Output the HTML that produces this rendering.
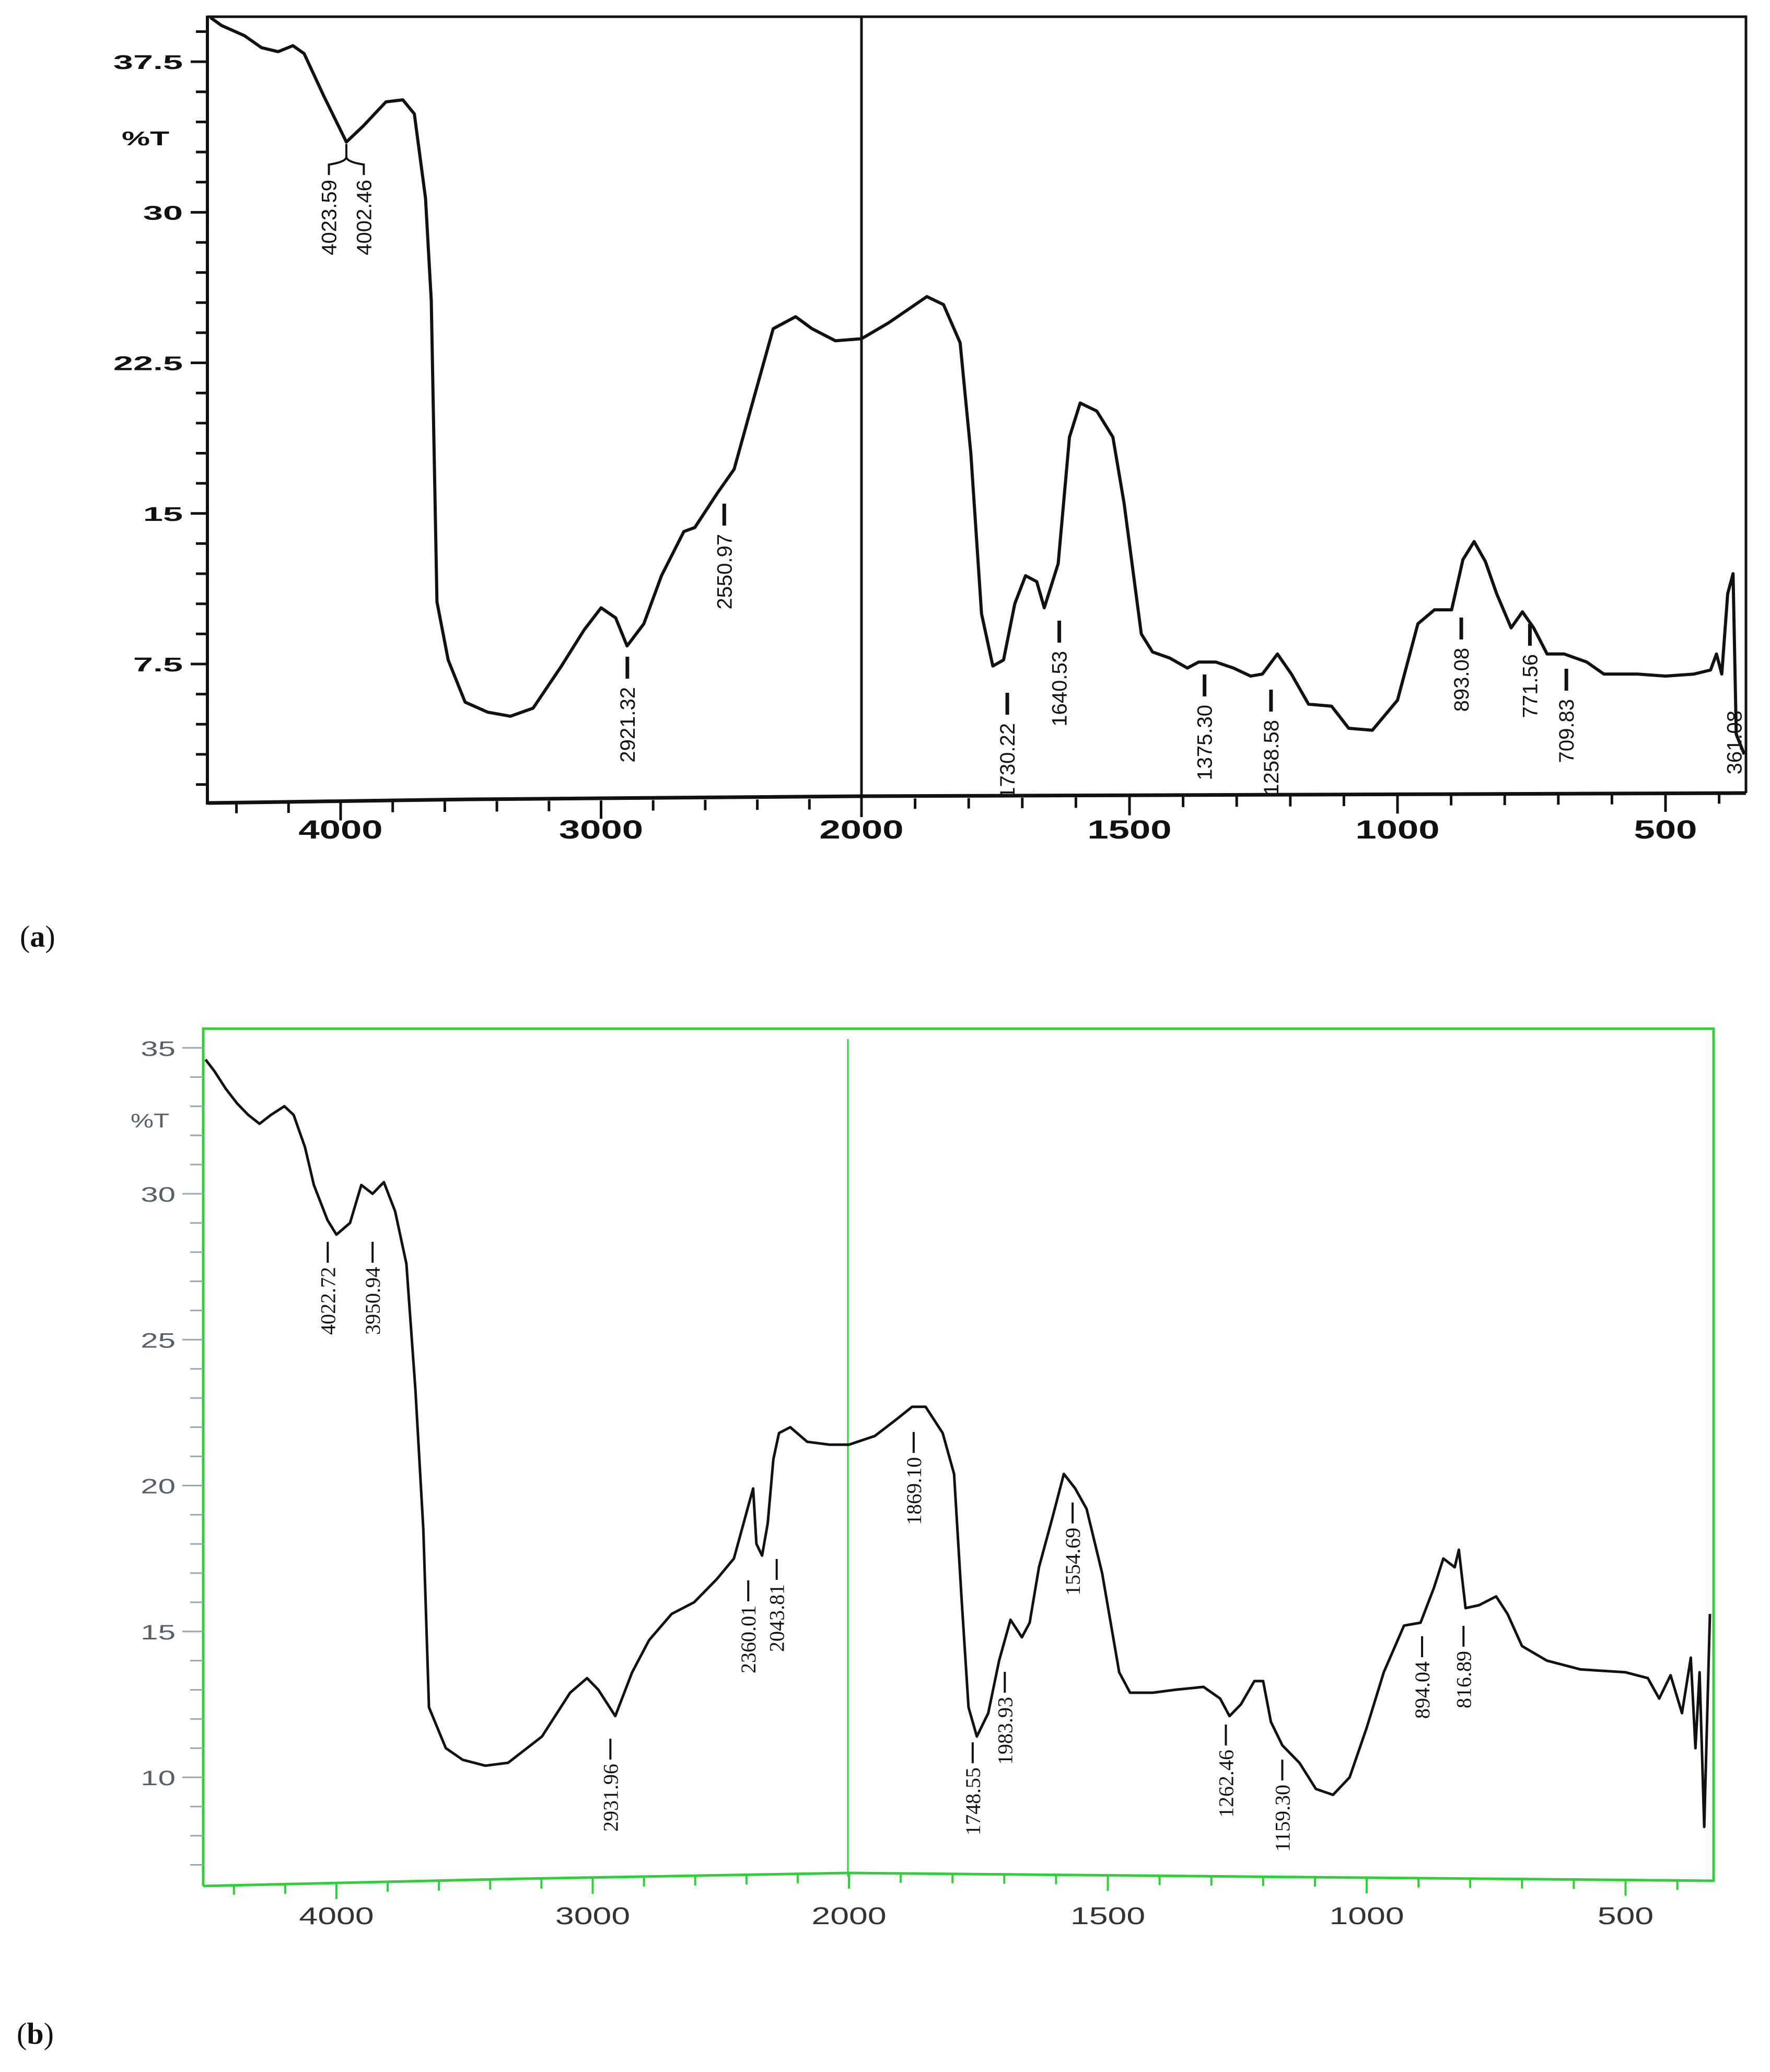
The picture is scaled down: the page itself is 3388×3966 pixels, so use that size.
<!DOCTYPE html>
<html><head><meta charset="utf-8"><style>
html,body{margin:0;padding:0;background:#fff;}
svg{display:block;}
</style></head>
<body>
<svg id="fig" width="3388" height="3966" viewBox="0 0 3388 3966" xmlns="http://www.w3.org/2000/svg">
<rect x="0" y="0" width="3388" height="3966" fill="#fff"/>
<g id="chartA"></g>
<g id="chartB"></g>
<text x="38" y="1812" font-family="Liberation Serif, serif" font-size="58" fill="#111">(<tspan font-weight="bold">a</tspan>)</text>
<text x="32" y="3912" font-family="Liberation Serif, serif" font-size="58" fill="#111">(<tspan font-weight="bold">b</tspan>)</text>
</svg>
<script>
// ---------- Chart A data ----------
const waveA = [4500,4457,4370,4304,4240,4183,4140,4065,3978,3913,3826,3761,3717,3674,3652,3630,3587,3522,3435,3348,3261,3152,3065,3000,2944,2900,2836,2768,2682,2640,2554,2489,2425,2339,2253,2190,2100,2000,1949,1878,1847,1816,1796,1776,1755,1735,1714,1694,1673,1659,1633,1612,1592,1561,1531,1510,1478,1457,1425,1392,1371,1339,1306,1274,1252,1224,1198,1166,1123,1091,1047,1000,962,931,899,878,857,836,815,788,767,746,721,689,647,615,552,500,447,416,405,395,384,374,368,353];
const transA = [39.7,39.3,38.8,38.2,38.0,38.3,37.9,35.8,33.5,34.3,35.5,35.6,34.9,30.7,25.6,10.6,7.7,5.6,5.1,4.9,5.3,7.4,9.2,10.3,9.8,8.4,9.5,11.9,14.1,14.3,16.0,17.2,20.2,24.2,24.8,24.2,23.6,23.7,24.5,25.8,25.4,23.5,18.0,10.0,7.4,7.7,10.5,11.9,11.6,10.3,12.5,18.8,20.5,20.1,18.8,15.5,9.0,8.1,7.8,7.3,7.6,7.6,7.3,6.9,7.0,8.0,7.0,5.5,5.4,4.3,4.2,5.7,9.5,10.2,10.2,12.7,13.6,12.6,11.0,9.3,10.1,9.3,8.0,8.0,7.6,7.0,7.0,6.9,7.0,7.2,8.0,7.0,11.0,12.0,4.0,3.0];
const yTicksA = [7.5,15,22.5,30,37.5];
const yTickLabelsA = ["7.5","15","22.5","30","37.5"];
const xTicksA = [4000,3000,2000,1500,1000,500];
const xTickLabelsA = ["4000","3000","2000","1500","1000","500"];
const peakLabelsA = ["4023.59","4002.46","2921.32","2550.97","1730.22","1640.53","1375.30","1258.58","893.08","771.56","709.83","361.08"];
const peakPosA = [4045,3911,2899,2527,1728,1631,1360,1236,881,753,685,372];
const peakTopA = [344,344,1257,964,1326,1188,1291,1320,1182,1194,1280,1360];

// ---------- Chart B data ----------
const waveB = [4511,4476,4432,4388,4344,4300,4256,4203,4167,4123,4088,4035,4000,3947,3903,3859,3815,3771,3727,3692,3661,3639,3573,3507,3419,3330,3198,3088,3022,2978,2912,2846,2780,2692,2604,2515,2449,2396,2374,2361,2339,2317,2295,2273,2229,2163,2075,2000,1950,1906,1878,1852,1819,1797,1782,1769,1753,1731,1710,1688,1666,1651,1633,1607,1585,1563,1541,1511,1478,1457,1413,1370,1315,1283,1265,1243,1217,1200,1185,1163,1130,1098,1065,1033,1000,967,928,896,870,852,830,822,809,783,750,728,700,652,587,500,457,435,413,391,374,365,357,348,337];
const transB = [34.6,34.2,33.6,33.1,32.7,32.4,32.7,33.0,32.7,31.6,30.3,29.1,28.6,29.0,30.3,30.0,30.4,29.4,27.6,23.3,18.5,12.4,11.0,10.6,10.4,10.5,11.4,12.9,13.4,13.0,12.1,13.6,14.7,15.6,16.0,16.8,17.5,19.2,19.9,18.0,17.6,18.7,20.9,21.8,22.0,21.5,21.4,21.4,21.7,22.3,22.7,22.7,21.8,20.4,16.0,12.4,11.4,12.2,14.0,15.4,14.8,15.3,17.2,18.9,20.4,19.9,19.2,17.0,13.6,12.9,12.9,13.0,13.1,12.7,12.1,12.5,13.3,13.3,11.9,11.1,10.5,9.6,9.4,10.0,11.7,13.6,15.2,15.3,16.5,17.5,17.2,17.8,15.8,15.9,16.2,15.6,14.5,14.0,13.7,13.6,13.4,12.7,13.5,12.2,14.1,11.0,13.6,8.3,15.6];
const yTicksB = [10,15,20,25,30,35];
const yTickLabelsB = ["10","15","20","25","30","35"];
const xTicksB = [4000,3000,2000,1500,1000,500];
const xTickLabelsB = ["4000","3000","2000","1500","1000","500"];
const peakLabelsB = ["4022.72","3950.94","2931.96","2360.01","2043.81","1869.10","1748.55","1983.93","1554.69","1262.46","1159.30","894.04","816.89"];
const peakPosB = [4034,3859,2931,2393,2282,1875,1761,1699,1568,1272,1163,893,813];
const peakTopB = [2377,2377,3328,3025,2984,2741,3335,3200,2876,3301,3368,3132,3112];

// ---------- axis functions ----------
function xA(w){ return w>=2000 ? 1649-(w-2000)*0.4985 : 1649+(2000-w)*1.026; }
function yA(t){ return 1271-(t-7.5)*38.43; }
function xB(w){ return w>=2000 ? 1625-(w-2000)*0.4905 : 1625+(2000-w)*0.991; }
function yB(t){ return 3402-(t-10)*55.85; }

const NS="http://www.w3.org/2000/svg";
function mk(tag, attrs, parent){
  const e=document.createElementNS(NS,tag);
  for(const k in attrs) e.setAttribute(k,attrs[k]);
  parent.appendChild(e); return e;
}
const gA=document.getElementById('chartA');
const gB=document.getElementById('chartB');

// ===== Chart A frame =====
let el;
el=mk('polyline',{points:"397,32 3342,32 3342,1518",fill:"none",stroke:"#111","stroke-width":5},gA);


el=mk('line',{x1:397,y1:30,x2:397,y2:1540,stroke:"#111","stroke-width":6},gA);


el=mk('polyline',{points:"397,1537 900,1530 1649,1524 2500,1521 3342,1518",fill:"none",stroke:"#111","stroke-width":7},gA);


el=mk('line',{x1:xA(2000),y1:32,x2:xA(2000),y2:1560,stroke:"#111","stroke-width":5},gA);


function axisYa(x){ return 1537-(x-397)*(19/2945); }
for(let w=4400; w>=400; w-= (w>2000?200:100)){
  const x=xA(w); if(x<400||x>3340) continue;
  const major = xTicksA.indexOf(w)>=0;
  const y0=axisYa(x);
  el=mk('line',{x1:x,y1:y0,x2:x,y2:y0+(major?35:20),stroke:"#111","stroke-width":5},gA);
  
  
}
xTicksA.forEach((w,i)=>{
  const x=xA(w);
  el=mk('text',{x:0,y:0,transform:`translate(${x},1605) scale(1.45,1)`,"text-anchor":"middle","font-family":"Liberation Sans, sans-serif","font-weight":"bold","font-size":50,fill:"#111"},gA);
  el.textContent=xTickLabelsA[i];
  
  
});
for(let t=1.5; t<=39; t+=1.5){
  const y=yA(t); if(y<40) continue;
  const major = Math.abs(t/7.5-Math.round(t/7.5))<1e-6;
  el=mk('line',{x1:397-(major?32:22),y1:y,x2:397,y2:y,stroke:"#111","stroke-width":5},gA);
  
  
}
yTicksA.forEach((t,i)=>{
  el=mk('text',{x:0,y:0,transform:`translate(350,${yA(t)+14}) scale(1.8,1)`,"text-anchor":"end","font-family":"Liberation Sans, sans-serif","font-weight":"bold","font-size":38,fill:"#111"},gA);
  el.textContent=yTickLabelsA[i];
  
  
});
el=mk('text',{x:0,y:0,transform:"translate(233,278) scale(1.6,1)","font-family":"Liberation Sans, sans-serif","font-weight":"bold","font-size":38,fill:"#111"},gA);
el.textContent="%T";



el=mk('polyline',{points:waveA.map((w,i)=>xA(w).toFixed(1)+","+yA(transA[i]).toFixed(1)).join(" "),fill:"none",stroke:"#111","stroke-width":6,"stroke-linejoin":"round"},gA);



el=mk('path',{d:`M ${xA(3978)} ${yA(33.4)} L ${xA(3978)} 300 Q ${xA(3978)} 310 ${xA(4045)} 315 L ${xA(4045)} 335 M ${xA(3978)} 300 Q ${xA(3978)} 310 ${xA(3911)} 315 L ${xA(3911)} 335`,fill:"none",stroke:"#111","stroke-width":4},gA);



peakLabelsA.forEach((lab,i)=>{
  const x=xA(peakPosA[i]); const top=peakTopA[i];
  if(i>1 && i!==11){
    el=mk('line',{x1:x,y1:top,x2:x,y2:top+42,stroke:"#111","stroke-width":7},gA);
    
    
  }
  const ty = (i<=1||i===11)? top : top+58;
  el=mk('text',{x:0,y:0,transform:`translate(${x+14},${ty}) rotate(-90)`,"text-anchor":"end","font-family":"Liberation Sans, sans-serif","font-size":40,fill:"#111"},gA);
  el.textContent=lab;
  
  
});

// ===== Chart B =====
const GREEN="#2fce3a";
function axisYb(x){ return x<1625 ? 3610-(x-389)*(25/1236) : 3585+(x-1625)*(15/1655); }
el=mk('polyline',{points:"389,3610 389,1969 3280,1969 3280,3602",fill:"none",stroke:GREEN,"stroke-width":5},gB);


el=mk('polyline',{points:"389,3610 1000,3596 1625,3585 2500,3593 3280,3600",fill:"none",stroke:GREEN,"stroke-width":5},gB);


el=mk('line',{x1:1623,y1:1989,x2:1623,y2:3592,stroke:GREEN,"stroke-width":3},gB);


for(let w=4400; w>=400; w-= (w>2000?200:100)){
  const x=xB(w); if(x<392||x>3276) continue;
  const major = xTicksB.indexOf(w)>=0;
  const y0=axisYb(x);
  el=mk('line',{x1:x,y1:y0,x2:x,y2:y0+(major?30:18),stroke:GREEN,"stroke-width":4},gB);
  
  
}
xTicksB.forEach((w,i)=>{
  el=mk('text',{x:0,y:0,transform:`translate(${xB(w)},3683) scale(1.4,1)`,"text-anchor":"middle","font-family":"Liberation Sans, sans-serif","font-size":46,fill:"#333"},gB);
  el.textContent=xTickLabelsB[i];
  
  
});
for(let t=7; t<=35; t+=1){
  const y=yB(t);
  el=mk('line',{x1:389-(t%5===0?40:25),y1:y,x2:389,y2:y,stroke:"#9aa","stroke-width":3},gB);
  
  
}
yTicksB.forEach((t,i)=>{
  el=mk('text',{x:0,y:0,transform:`translate(336,${yB(t)+15}) scale(1.5,1)`,"text-anchor":"end","font-family":"Liberation Sans, sans-serif","font-size":40,fill:"#55606a"},gB);
  el.textContent=yTickLabelsB[i];
  
  
});
el=mk('text',{x:0,y:0,transform:"translate(250,2158) scale(1.3,1)","font-family":"Liberation Sans, sans-serif","font-size":38,fill:"#55606a"},gB);
el.textContent="%T";



el=mk('polyline',{points:waveB.map((w,i)=>xB(w).toFixed(1)+","+yB(transB[i]).toFixed(1)).join(" "),fill:"none",stroke:"#111","stroke-width":5,"stroke-linejoin":"round"},gB);



peakLabelsB.forEach((lab,i)=>{
  const x=xB(peakPosB[i]); const top=peakTopB[i];
  el=mk('line',{x1:x,y1:top,x2:x,y2:top+40,stroke:"#111","stroke-width":4},gB);
  
  
  el=mk('text',{x:0,y:0,transform:`translate(${x+14},${top+48}) rotate(-90)`,"text-anchor":"end","font-family":"Liberation Serif, serif","font-size":40,fill:"#111"},gB);
  el.textContent=lab;
  
  
});
</script>
</body></html>
